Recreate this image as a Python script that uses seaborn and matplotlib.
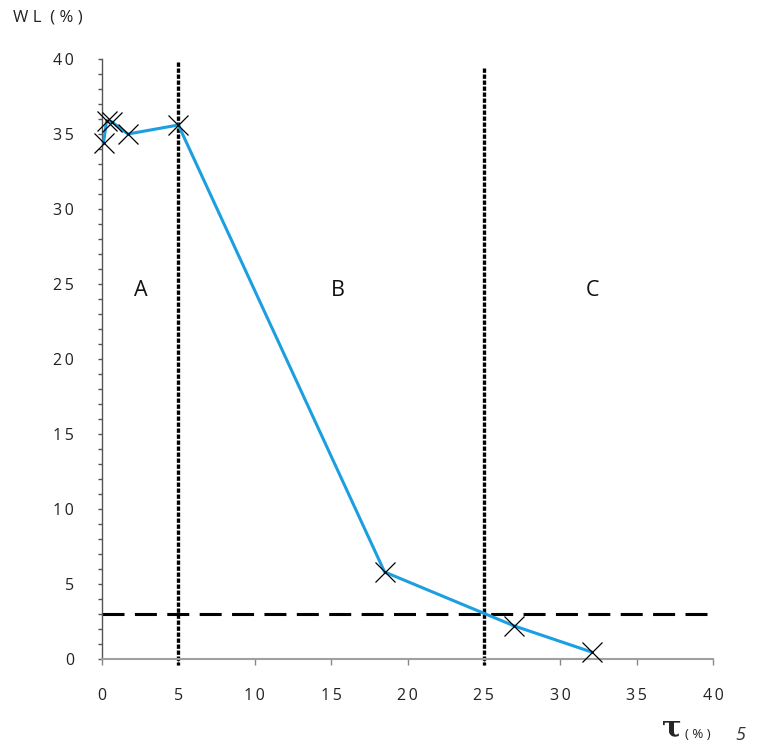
import matplotlib
matplotlib.use("Agg")
import matplotlib.pyplot as plt
import seaborn as sns
import pandas as pd
from matplotlib.ticker import MultipleLocator, FuncFormatter

# data
tau = [0.1, 0.3, 0.65, 1.7, 5.0, 18.5, 27.0, 32.1]
wl = [34.4, 35.9, 35.8, 35.0, 35.6, 5.8, 2.2, 0.45]
zone_bounds = [5, 25]
threshold = 3
zone_labels = ["A", "B", "C"]
zone_label_x = [2.55, 15.45, 32.1]
zone_label_y = 24.6

sns.set_style("white")
plt.rcParams['font.family'] = ['Open Sans', 'DejaVu Sans']

df = pd.DataFrame({"tau": tau, "wl": wl})

fig = plt.figure(figsize=(7.6, 7.47), dpi=100)
ax = fig.add_axes([102 / 760, 1 - 659 / 747, 611 / 760, 600 / 747])

# threshold line and zone boundaries
ax.plot([0, 40], [threshold, threshold], color="black", lw=2.2,
        linestyle=(0, (7.2, 3.4)), zorder=2, clip_on=False)
for xb, ytop in zip(zone_bounds, [39.8, 39.4]):
    ax.plot([xb, xb], [ytop, -0.4], color="black", lw=2.4,
            linestyle=(0, (1.3, 0.5)), zorder=2, clip_on=False)

sns.lineplot(data=df, x="tau", y="wl", sort=False, ax=ax, color="#1c9fe0",
             lw=2.2, marker="x", markersize=14, markeredgecolor="black",
             markeredgewidth=0.9, zorder=3, clip_on=False)

for lab, xl in zip(zone_labels, zone_label_x):
    ax.text(xl, zone_label_y, lab, fontsize=15.5, ha="center", va="center",
            color="#111111")

ax.set_xlim(0, 40)
ax.set_ylim(0, 40)
ax.set_xlabel("")
ax.set_ylabel("")

spaced = FuncFormatter(lambda v, p: "\u2009".join(str(int(round(v)))))
ax.xaxis.set_major_locator(MultipleLocator(5))
ax.yaxis.set_major_locator(MultipleLocator(5))
ax.yaxis.set_minor_locator(MultipleLocator(1))
ax.xaxis.set_major_formatter(spaced)
ax.yaxis.set_major_formatter(spaced)

for s in ["top", "right"]:
    ax.spines[s].set_visible(False)
ax.spines["left"].set_color("#555555")
ax.spines["bottom"].set_color("#a0a0a0")
ax.spines["left"].set_linewidth(1.0)
ax.spines["bottom"].set_linewidth(1.5)

ax.tick_params(axis="x", which="major", direction="out", length=4,
               width=1.0, color="#888888", pad=17, labelsize=11.5,
               labelcolor="#222222", bottom=True)
ax.tick_params(axis="y", which="both", direction="out", length=3,
               width=1.0, color="#555555", pad=17, labelsize=11.5,
               labelcolor="#222222", left=True)
ax.tick_params(axis="y", which="minor", length=3)

fig.text(13 / 760, 1 - 18 / 747, "W L  ( % )", fontsize=12, va="center",
         ha="left", color="#222222")
fig.text(672 / 760, 1 - 728 / 747, "τ", fontsize=21, family="DejaVu Serif",
         fontweight="bold", va="center", ha="center")
fig.text(698 / 760, 1 - 734 / 747, "( % )", fontsize=9.5, va="center",
         ha="center", color="#222222")
fig.text(740 / 760, 1 - 735 / 747, "5", fontsize=13, style="italic",
         va="center", ha="center", color="#333333")

fig.savefig("out.png", dpi=100, facecolor="white")
